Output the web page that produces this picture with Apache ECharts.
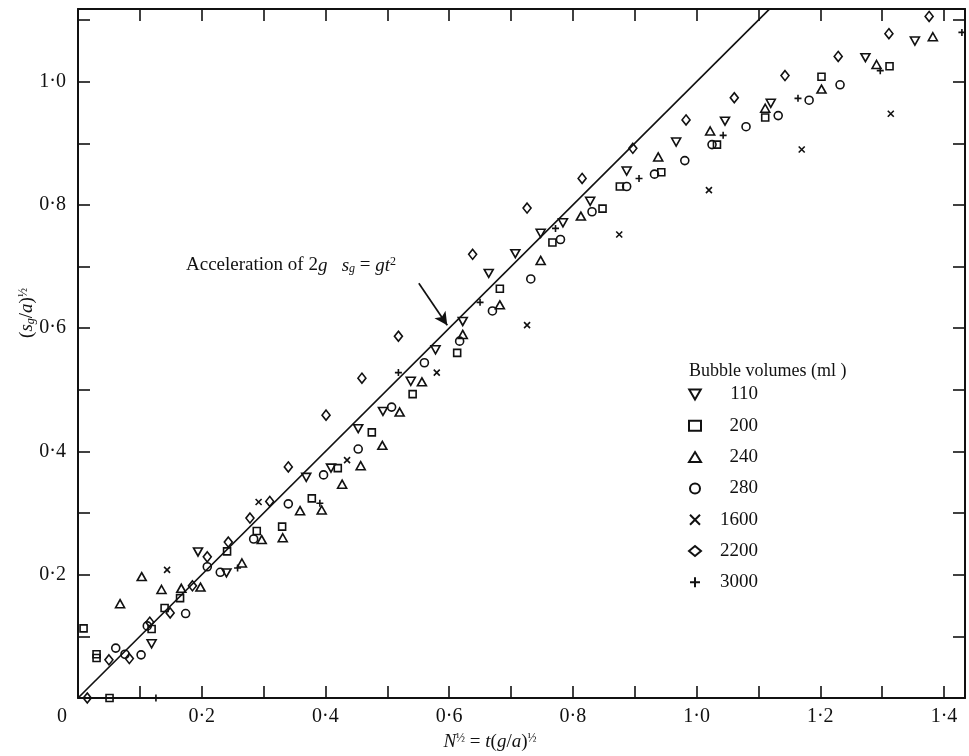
<!DOCTYPE html>
<html>
<head>
<meta charset="utf-8">
<script src="https://cdn.jsdelivr.net/npm/echarts@6.0.0/dist/echarts.min.js"></script>
<style>
  html, body { margin: 0; padding: 0; background: #fff; }
  #main { width: 969px; height: 756px; }
</style>
</head>
<body>
<div id="main"></div>
<script>
// bubble volumes (ml) and the points read for each: [N^1/2, (sg/a)^1/2]
const volumes = ['110', '200', '240', '280', '1600', '2200', '3000'];

const v110 = [[0.119, 0.088], [0.194, 0.237], [0.240, 0.203], [0.369, 0.358], [0.409, 0.373], [0.453, 0.437],
  [0.493, 0.465], [0.538, 0.514], [0.578, 0.565], [0.622, 0.611], [0.664, 0.689], [0.707, 0.721], [0.748, 0.754],
  [0.784, 0.771], [0.828, 0.806], [0.887, 0.855], [0.967, 0.902], [1.046, 0.936], [1.120, 0.965], [1.273, 1.039],
  [1.353, 1.066]];
const v200 = [[0.009, 0.113], [0.030, 0.065], [0.030, 0.071], [0.051, 0.0], [0.119, 0.112], [0.140, 0.146],
  [0.165, 0.162], [0.241, 0.238], [0.289, 0.271], [0.330, 0.278], [0.378, 0.324], [0.420, 0.373], [0.475, 0.431],
  [0.541, 0.493], [0.613, 0.560], [0.682, 0.664], [0.767, 0.739], [0.848, 0.794], [0.876, 0.830], [0.943, 0.853],
  [1.033, 0.898], [1.111, 0.942], [1.202, 1.008], [1.312, 1.025]];
const v240 = [[0.068, 0.153], [0.103, 0.197], [0.135, 0.176], [0.167, 0.178], [0.198, 0.180], [0.265, 0.219],
  [0.297, 0.257], [0.331, 0.260], [0.359, 0.304], [0.394, 0.305], [0.427, 0.347], [0.457, 0.377], [0.492, 0.410],
  [0.520, 0.464], [0.556, 0.513], [0.622, 0.590], [0.682, 0.638], [0.748, 0.710], [0.813, 0.782], [0.938, 0.878],
  [1.022, 0.920], [1.111, 0.957], [1.202, 0.988], [1.291, 1.028], [1.382, 1.073]];
const v280 = [[0.061, 0.081], [0.076, 0.071], [0.102, 0.070], [0.112, 0.117], [0.174, 0.137], [0.209, 0.213],
  [0.230, 0.204], [0.284, 0.258], [0.340, 0.315], [0.397, 0.362], [0.453, 0.404], [0.507, 0.472], [0.560, 0.544],
  [0.617, 0.579], [0.670, 0.628], [0.732, 0.680], [0.780, 0.744], [0.831, 0.789], [0.887, 0.830], [0.932, 0.850],
  [0.981, 0.872], [1.025, 0.898], [1.080, 0.927], [1.132, 0.945], [1.182, 0.970], [1.232, 0.995]];
const v1600 = [[0.144, 0.208], [0.292, 0.318], [0.435, 0.386], [0.580, 0.528], [0.726, 0.605], [0.875, 0.752],
  [1.020, 0.824], [1.170, 0.890], [1.314, 0.948]];
const v2200 = [[0.015, 0.0], [0.050, 0.062], [0.083, 0.064], [0.116, 0.123], [0.149, 0.138], [0.185, 0.182],
  [0.209, 0.229], [0.243, 0.253], [0.278, 0.292], [0.310, 0.319], [0.340, 0.375], [0.401, 0.459], [0.459, 0.519],
  [0.518, 0.587], [0.638, 0.720], [0.726, 0.795], [0.815, 0.843], [0.897, 0.892], [0.983, 0.938], [1.061, 0.974],
  [1.143, 1.010], [1.229, 1.041], [1.311, 1.078], [1.376, 1.106]];
const v3000 = [[0.126, 0.0], [0.258, 0.211], [0.391, 0.316], [0.518, 0.528], [0.650, 0.642], [0.772, 0.762],
  [0.907, 0.843], [1.043, 0.913], [1.164, 0.973], [1.297, 1.018], [1.429, 1.080]];

// acceleration of 2g: sg = g t^2  ->  (sg/a)^1/2 = N^1/2
const accelLine = [[0, 0], [1.2, 1.2]];
const arrowFrom = [0.551, 0.673];
const arrowTo = [0.597, 0.605];

const serif = 'Liberation Serif';
const ink = '#111';
const chart = echarts.init(document.getElementById('main'));

function tickLabel(v) {
  const t = v * 10;
  if (Math.abs(t - Math.round(t)) > 1e-6) return '';
  const k = Math.round(t);
  if (k % 2 !== 0 || k === 0) return '';
  return (k / 10).toFixed(1).replace('.', '·');
}

const symbols = {
  '110': { symbol: 'path://M0,0L10,0L5,8.66Z', size: [9, 8] },
  '200': { symbol: 'rect', size: 7 },
  '240': { symbol: 'triangle', size: [9, 8] },
  '280': { symbol: 'circle', size: 8 },
  '1600': { symbol: 'path://M0,0L10,10M10,0L0,10', size: 6 },
  '2200': { symbol: 'diamond', size: [8, 10] },
  '3000': { symbol: 'path://M5,0L5,10M0,5L10,5', size: 7 }
};
const seriesData = [v110, v200, v240, v280, v1600, v2200, v3000];

const scatter = volumes.map((name, i) => ({
  name: name,
  type: 'scatter',
  symbol: symbols[name].symbol,
  symbolSize: symbols[name].size,
  itemStyle: { color: 'transparent', borderColor: ink, borderWidth: 1.6, opacity: 1 },
  emphasis: { disabled: true },
  data: seriesData[i]
}));

const axisCommon = {
  type: 'value',
  interval: 0.1,
  axisLine: { show: true, onZero: false, lineStyle: { color: ink, width: 2 } },
  axisTick: { show: true, inside: true, length: 12, lineStyle: { color: ink, width: 1.6 } },
  splitLine: { show: false }
};

const option = {
  animation: false,
  backgroundColor: '#fff',
  grid: { left: 78, right: 4, top: 9, bottom: 58, containLabel: false, outerBoundsMode: 'none' },
  xAxis: [
    Object.assign({}, axisCommon, {
      position: 'bottom', min: 0, max: 1.434,
      axisLabel: {
        margin: 9, color: ink, fontFamily: serif, fontSize: 20,
        showMaxLabel: false,
        formatter: v => Math.abs(v) < 1e-9 ? '{z|0}' : tickLabel(v),
        rich: { z: { fontFamily: serif, fontSize: 20, color: ink, padding: [0, 32, 0, 0] } }
      }
    }),
    Object.assign({}, axisCommon, {
      position: 'top', min: 0, max: 1.434, axisLabel: { show: false }
    })
  ],
  yAxis: [
    Object.assign({}, axisCommon, {
      position: 'left', min: 0, max: 1.118,
      axisLabel: {
        margin: 12, color: ink, fontFamily: serif, fontSize: 20,
        showMaxLabel: false, formatter: tickLabel
      }
    }),
    Object.assign({}, axisCommon, {
      position: 'right', min: 0, max: 1.118, axisLabel: { show: false }
    })
  ],
  legend: {
    data: volumes,
    orient: 'vertical',
    left: 683,
    top: 380,
    itemWidth: 12,
    itemHeight: 10,
    itemGap: 12.3,
    selectedMode: false,
    formatter: name => '{n|' + name + '}',
    textStyle: {
      color: ink, fontFamily: serif, fontSize: 19,
      rich: { n: { width: 52, align: 'right', fontFamily: serif, fontSize: 19, color: ink, lineHeight: 20 } }
    }
  },
  title: {
    text: 'Bubble volumes (ml )',
    left: 684, top: 357,
    textStyle: { color: ink, fontFamily: serif, fontSize: 18, fontWeight: 'normal' }
  },
  series: scatter.concat([{
    name: 'accel',
    type: 'line',
    data: accelLine,
    symbol: 'none',
    clip: true,
    lineStyle: { color: ink, width: 1.7 },
    emphasis: { disabled: true },
    markLine: {
      silent: true,
      symbol: ['none', 'arrow'],
      symbolSize: [10, 13],
      label: { show: false },
      lineStyle: { color: ink, width: 1.7, type: 'solid' },
      data: [[{ coord: arrowFrom }, { coord: arrowTo }]]
    }
  }]),
  graphic: [
    {
      type: 'text', left: 186, top: 256,
      style: {
        text: 'Acceleration of 2{i|g}   {i|s}{sub|g} = {i|gt}{sup|2}',
        fontFamily: serif, fontSize: 19, fill: ink,
        rich: {
          i: { fontFamily: serif, fontStyle: 'italic', fontSize: 19, fill: ink },
          sub: { fontFamily: serif, fontStyle: 'italic', fontSize: 12, verticalAlign: 'bottom', padding: [6, 0, 0, 0] },
          sup: { fontFamily: serif, fontSize: 12, verticalAlign: 'top', padding: [0, 0, 6, 0] }
        }
      }
    },
    {
      type: 'text', x: 27, y: 313, rotation: Math.PI / 2,
      style: {
        text: '({i|s}{sub|g}/{i|a}){sup|½}',
        fontFamily: serif, fontSize: 19, fill: ink, align: 'center', verticalAlign: 'middle',
        rich: {
          i: { fontFamily: serif, fontStyle: 'italic', fontSize: 19, fill: ink },
          sub: { fontFamily: serif, fontStyle: 'italic', fontSize: 12, verticalAlign: 'bottom', padding: [6, 0, 0, 0] },
          sup: { fontFamily: serif, fontSize: 12, verticalAlign: 'top', padding: [0, 0, 6, 0] }
        }
      }
    },
    {
      type: 'text', x: 490, y: 742,
      style: {
        text: '{i|N}{sup|½} = {i|t}({i|g}/{i|a}){sup|½}',
        fontFamily: serif, fontSize: 19, fill: ink, align: 'center', verticalAlign: 'middle',
        rich: {
          i: { fontFamily: serif, fontStyle: 'italic', fontSize: 19, fill: ink },
          sup: { fontFamily: serif, fontSize: 12, verticalAlign: 'top', padding: [0, 0, 6, 0] }
        }
      }
    }
  ]
};

chart.setOption(option);
</script>
</body>
</html>
